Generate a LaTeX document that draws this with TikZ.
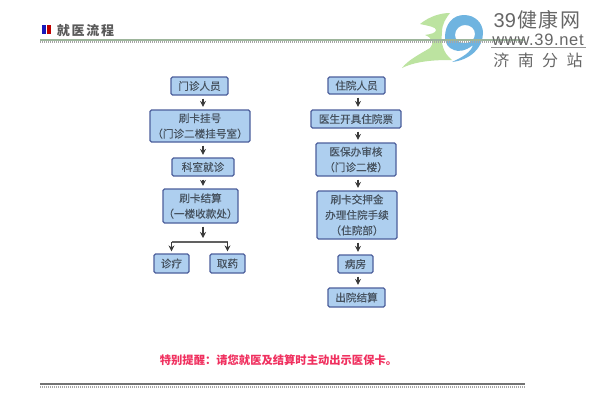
\documentclass[tikz,border=0pt]{standalone}
\usepackage{fontspec}
\setmainfont{Noto Sans CJK SC}
\newfontfamily\latinfont{Liberation Sans}
\newfontfamily\urlfont[LetterSpace=4]{Liberation Sans}
\newfontfamily\boxfont[FakeBold=0.25]{Noto Sans CJK SC}
\usetikzlibrary{arrows.meta,calc}
\definecolor{boxfill}{HTML}{AECFEF}
\definecolor{boxline}{HTML}{4C5F9C}
\definecolor{boxtext}{HTML}{46525F}
\definecolor{arrowcol}{HTML}{3A3A3A}
\definecolor{rulegreen}{HTML}{9DB59B}
\definecolor{logogreen}{HTML}{BCE3A0}
\definecolor{logoblue}{HTML}{6FB4E0}
\definecolor{logotext}{HTML}{666666}
\definecolor{notered}{HTML}{F0305F}
\tikzset{
  flowbox/.style={draw=boxline,fill=boxfill,line width=1.2pt,rounded corners=1.5pt,text=boxtext,
    font=\boxfont\fontsize{10.6}{15.5}\selectfont,align=center,inner sep=0pt},
  flowarrow/.style={draw=arrowcol,line width=1.1pt,-{Stealth[length=6pt,width=6pt]},shorten >=2.5pt,shorten <=3pt},
  branchline/.style={draw=arrowcol!80,line width=1.3pt},
  branchtip/.style={draw=arrowcol,line width=1.1pt,-{Stealth[length=6pt,width=6pt]},shorten >=2pt},
  logoname/.style={text=logotext,inner sep=0pt,anchor=center},
}
\newcommand{\flownode}[6]{% name, x0, y0, x1, y1, text
  \node[flowbox,minimum width={(#4-#2)*1pt},minimum height={(#5-#3)*1pt}] (#1) at ({(#2+#4)/2},{(#3+#5)/2}) {#6};}
\begin{document}
\begin{tikzpicture}[x=1pt,y=-1pt]
\path[use as bounding box,fill=white] (0,0) rectangle (600,400);

% logo
\fill[logogreen] (420,24) .. controls (430,16) and (441,13) .. (450,13)
  .. controls (446,18) and (442,24) .. (442,32)
  .. controls (441,42) and (442,52) .. (452,60)
  .. controls (440,60) and (418,60) .. (402,68)
  .. controls (408,60) and (420,54) .. (430,48)
  .. controls (434,44) and (433,38) .. (425,35)
  .. controls (431,34) and (436,33) .. (436,30)
  .. controls (436,27) and (429,26) .. (420,24) -- cycle;
\fill[logoblue,even odd rule] (445,37)
  .. controls (445,24) and (453,15) .. (464,15)
  .. controls (475,15) and (483,23) .. (483,33)
  .. controls (483,48) and (470,60) .. (452,62)
  .. controls (463,57) and (471,52) .. (473,45)
  .. controls (466,51) and (458,52) .. (454,50)
  .. controls (448,48) and (445,43) .. (445,37) -- cycle
  (455,35) .. controls (455,29) and (460,25) .. (465,25)
  .. controls (471,25) and (475,29) .. (475,34)
  .. controls (475,40) and (470,43) .. (465,43)
  .. controls (459,43) and (455,40) .. (455,35) -- cycle;

% header
\fill[blue!70!black!90] (42,25) rectangle (46,34);
\fill[red!75!black] (46.5,25) rectangle (51,34);
\node[text=black!65,font=\fontsize{13}{13}\selectfont\bfseries,inner sep=0pt] (title) at (85.5,30.5) {就\kern1.8pt 医\kern1.8pt 流\kern1.8pt 程};
\fill[rulegreen] (40,38.5) rectangle (525,40.5);
\draw[black!35,line width=2pt,dash pattern=on 1pt off 1pt] (40,42) -- (525,42);

% logo text
\node[logoname,font=\fontsize{20}{20}\selectfont] (brand) at (537,19.5) {\latinfont 39\kern1.5pt\normalfont 健\kern1.5pt 康\kern1.5pt 网};
\node[logoname,font=\fontsize{16.5}{16.5}\selectfont\urlfont] (url) at (538,39.5) {www.39.net};
\draw[logotext!70,line width=0.6pt] (491,47) -- (586,47);
\node[logoname,font=\fontsize{16}{16}\selectfont] (branch) at (538,60.5) {济\kern8.5pt 南\kern8.5pt 分\kern8.5pt 站};

% left column
\flownode{a1}{171}{77}{228}{95}{门诊人员}
\flownode{a2}{150}{110}{250}{142}{刷卡挂号\\（门诊二楼挂号室）}
\flownode{a3}{172}{158}{234}{176}{科室就诊}
\flownode{a4}{163}{189}{238}{223}{刷卡结算\\（一楼收款处）}
\flownode{a5}{154}{254}{189}{273}{诊疗}
\flownode{a6}{210}{254}{245}{273}{取药}
\draw[flowarrow] (a1.south -| 203,0) -- (a2.north -| 203,0);
\draw[flowarrow] (a2.south -| 203,0) -- (a3.north -| 203,0);
\draw[flowarrow] (a3.south -| 203,0) -- (a4.north -| 203,0);
\coordinate (fork) at (203,238);
\draw[flowarrow,shorten >=0pt] (a4.south -| fork) -- (fork);
\coordinate (forkl) at (a5.north |- 0,242);
\coordinate (forkr) at (a6.north |- 0,242);
\draw[branchline] (forkl) -- (forkr);
\draw[branchtip] (forkl) -- (a5.north);
\draw[branchtip] (forkr) -- (a6.north);

% right column
\flownode{b1}{328}{77}{385}{94}{住院人员}
\flownode{b2}{311}{110}{401}{128}{医生开具住院票}
\flownode{b3}{316}{143}{396}{176}{医保办审核\\（门诊二楼）}
\flownode{b4}{317}{191}{397}{239}{刷卡交押金\\办理住院手续\\（住院部）}
\flownode{b5}{338}{255}{373}{273}{病房}
\flownode{b6}{328}{288}{385}{307}{出院结算}
\foreach \s/\t in {b1/b2,b2/b3,b3/b4,b4/b5,b5/b6}
  \draw[flowarrow] (\s.south -| 358,0) -- (\t.north -| 358,0);

% note and bottom rule
\node[text=notered,font=\fontsize{11.3}{11.3}\selectfont\bfseries,inner sep=0pt] (note) at (278.5,360) {特别提醒：请您就医及结算时主动出示医保卡。};
\fill[black!55] (40,382.5) rectangle (525,384.5);
\draw[black!35,line width=2pt,dash pattern=on 1pt off 1pt] (40,386.5) -- (525,386.5);
\end{tikzpicture}
\end{document}
